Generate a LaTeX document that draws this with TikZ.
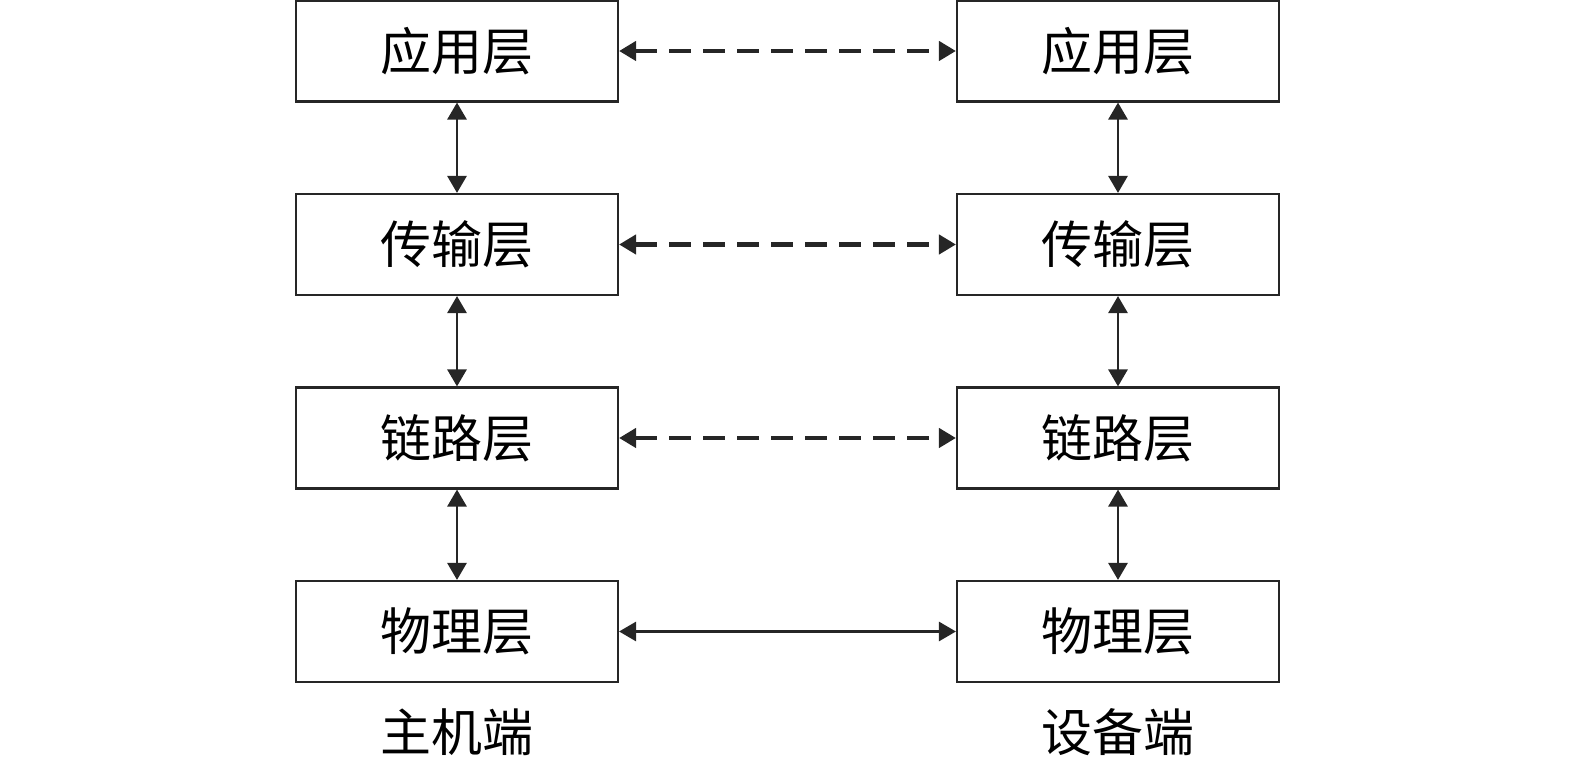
\documentclass[tikz,border=0pt]{standalone}
\usepackage{fontspec}
\newfontfamily\cjk{Noto Sans CJK SC}
\usetikzlibrary{arrows.meta,positioning}

\begin{document}
\begin{tikzpicture}[
		layer/.style={draw=black!85, line width=0.6pt, minimum width=3.22cm, minimum height=1.01cm, font=\cjk\fontsize{14.5}{17}\selectfont},
		link/.style={black!85, line width=0.8pt, {Triangle[length=1.7mm,width=1.9mm]}-{Triangle[length=1.7mm,width=1.9mm]}},
		peer/.style={link, line width=1.2pt, dash pattern={on 2.2mm off 1.2mm}}
	]
	\useasboundingbox (0, 0) rectangle (15.75, 7.59);
	% host side
	\node[layer](HApp) at (4.57, 7.08){应用层};
	\node[layer](HTrans) at (4.57, 5.145){传输层};
	\node[layer](HLink) at (4.57, 3.21){链路层};
	\node[layer](HPhy) at (4.57, 1.275){物理层};
	\node[font=\cjk\fontsize{14.5}{17}\selectfont](Host) at (4.57, 0.27){主机端};
	% device side
	\node[layer](DApp) at (11.18, 7.08){应用层};
	\node[layer](DTrans) at (11.18, 5.145){传输层};
	\node[layer](DLink) at (11.18, 3.21){链路层};
	\node[layer](DPhy) at (11.18, 1.275){物理层};
	\node[font=\cjk\fontsize{14.5}{17}\selectfont](Dev) at (11.18, 0.27){设备端};
	% vertical links
	\draw[link] (HApp) -- (HTrans);
	\draw[link] (HTrans) -- (HLink);
	\draw[link] (HLink) -- (HPhy);
	\draw[link] (DApp) -- (DTrans);
	\draw[link] (DTrans) -- (DLink);
	\draw[link] (DLink) -- (DPhy);
	% peer links
	\draw[peer] (HApp) -- (DApp);
	\draw[peer] (HTrans) -- (DTrans);
	\draw[peer] (HLink) -- (DLink);
	\draw[link] (HPhy) -- (DPhy);
\end{tikzpicture}
\end{document}
